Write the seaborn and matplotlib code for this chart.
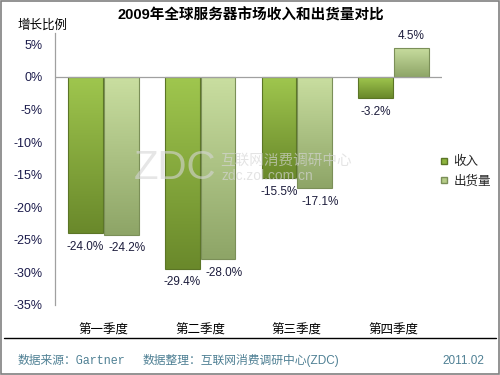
import numpy as np
import pandas as pd
import matplotlib
matplotlib.use('Agg')
import matplotlib.pyplot as plt
import seaborn as sns
from matplotlib.patches import Rectangle
from matplotlib.lines import Line2D
from matplotlib.colors import LinearSegmentedColormap

# 数据
quarters = ['第一季度', '第二季度', '第三季度', '第四季度']
series = ['收入', '出货量']
revenue = [-24.0, -29.4, -15.5, -3.2]
shipment = [-24.2, -28.0, -17.1, 4.5]
yticks = [5, 0, -5, -10, -15, -20, -25, -30, -35]

df = pd.DataFrame({
    'quarter': quarters * 2,
    'series': [series[0]] * 4 + [series[1]] * 4,
    'value': revenue + shipment,
})

sns.set_theme(style='white')
plt.rcParams['font.family'] = ['Liberation Sans', 'Noto Sans CJK SC', 'DejaVu Sans']

# 顶部浅、底部深的渐变色
grad = {
    '收入': ('#9fc64e', '#6a892b', '#5b7526'),
    '出货量': ('#c9dea0', '#8ea567', '#7b8f58'),
}
palette = {'收入': '#8db43e', '出货量': '#b6cd88'}

fig = plt.figure(figsize=(5, 3.75), dpi=100)
ax = fig.add_axes([0.11, 0.1867, 0.774, 0.7253])

sns.barplot(data=df, x='quarter', y='value', hue='series', order=quarters,
            hue_order=series, palette=palette, width=0.74, gap=0.03,
            legend=False, ax=ax)

# 渐变填充
for container, name in zip(ax.containers, series):
    top_c, bot_c, edge_c = grad[name]
    cmap = LinearSegmentedColormap.from_list(name, [bot_c, top_c])
    for bar, val in zip(container, container.datavalues):
        x0 = bar.get_x()
        w = bar.get_width()
        y0, y1 = sorted([0, val])
        bar.set_facecolor('none')
        bar.set_edgecolor(edge_c)
        bar.set_linewidth(0.8)
        img = np.linspace(0, 1, 64).reshape(-1, 1)
        im = ax.imshow(img, cmap=cmap, origin='lower', aspect='auto',
                       extent=(x0, x0 + w, y0, y1), zorder=bar.get_zorder() - 0.1)
        im.set_clip_path(bar)

ax.set_xlim(-0.5, 3.5)
ax.set_ylim(-35, 6.75)

# 数据标签（出货量的标签略向右挪，避免和收入标签挤在一起）
for k, container in enumerate(ax.containers):
    for bar, val in zip(container, container.datavalues):
        cx = bar.get_x() + bar.get_width() / 2 + (0.06 if k == 1 else 0)
        if val < 0:
            ax.text(cx, val - 1.2, f'{val:.1f}%', ha='center', va='top',
                    fontsize=8.5, color='#1c1c3c')
        else:
            ax.text(cx - 0.06, val + 0.9, f'{val:.1f}%', ha='center', va='bottom',
                    fontsize=8.5, color='#1c1c3c')

ax.axhline(0, color='#a0a0a0', lw=0.9, zorder=1)
sns.despine(ax=ax, top=True, right=True, bottom=True)
ax.spines['left'].set_color('#a0a0a0')
ax.spines['left'].set_linewidth(0.9)
ax.set_yticks(yticks)
ax.set_yticklabels([f'{t}%' for t in yticks], fontsize=9, color='#1c1c4c')
ax.tick_params(axis='y', length=0, pad=9)
ax.tick_params(axis='x', length=0, pad=14, labelsize=9, labelcolor='black')
ax.set_xlabel('')
ax.set_ylabel('')

# 图例
handles = [Line2D([], [], marker='s', ls='', markersize=5, markerfacecolor=palette[s],
                  markeredgecolor=grad[s][2]) for s in series]
ax.legend(handles, series, loc='center left', bbox_to_anchor=(0.995, 0.49),
          frameon=False, fontsize=9, handlelength=0.7, handletextpad=0.35,
          labelspacing=0.6, borderpad=0, borderaxespad=0)

# 标题等
fig.text(0.502, 0.958, '2009年全球服务器市场收入和出货量对比', ha='center', va='center',
         fontsize=10.5, fontweight='bold', color='black')
fig.text(0.036, 0.933, '增长比例', ha='left', va='center', fontsize=9, color='black')

# 水印
fig.text(0.268, 0.552, 'ZDC', fontsize=29, color='#d6d6d6', alpha=0.6,
         ha='left', va='center', family='Liberation Sans')
fig.text(0.44, 0.571, '互联网消费调研中心', fontsize=10.5, color='#d6d6d6', alpha=0.65,
         ha='left', va='center')
fig.text(0.444, 0.531, 'zdc.zol.com.cn', fontsize=10, color='#d6d6d6', alpha=0.65,
         ha='left', va='center')

# 底部分隔线和来源
fig.add_artist(Line2D([0.008, 0.992], [0.099, 0.099], color='black', lw=1.0))
foot_c = '#4f8094'
fig.text(0.036, 0.038, '数据来源：Gartner', ha='left', va='center', fontsize=8.5,
         color=foot_c, family=['Liberation Mono', 'Noto Sans CJK SC'])
fig.text(0.286, 0.038, '数据整理：互联网消费调研中心(ZDC)', ha='left', va='center',
         fontsize=8.5, color=foot_c)
fig.text(0.968, 0.038, '2011.02', ha='right', va='center', fontsize=8.5, color=foot_c)

# 外框
fig.add_artist(Rectangle((0.002, 0.003), 0.996, 0.994, transform=fig.transFigure,
                         fill=False, edgecolor='#808080', lw=1.2))

fig.savefig('out.png', dpi=100)
